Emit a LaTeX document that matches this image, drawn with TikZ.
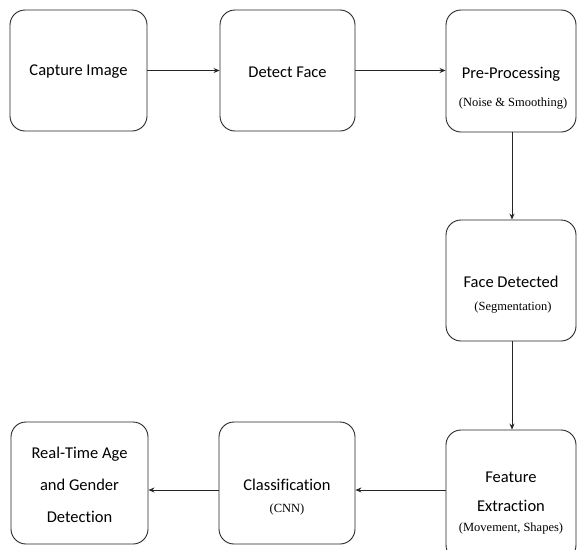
\documentclass[tikz,border=0pt]{standalone}
\usepackage{fontspec}
\setmainfont{Carlito}[Ligatures=NoCommon]
\newfontfamily\subfont{Liberation Serif}
\usetikzlibrary{arrows.meta}
\begin{document}
\begin{tikzpicture}[x=1pt,y=-1pt,
  box/.style={draw=black!85, line width=0.9pt, rounded corners=15pt, inner sep=0pt},
  main/.style={font=\fontsize{16.5}{29}\selectfont, align=center},
  sub/.style={font=\subfont\fontsize{12.5}{14}\selectfont},
  conn/.style={draw=black!85, line width=0.8pt, -{Stealth[length=6pt,width=5pt]}}]
\useasboundingbox (0,0) rectangle (577,549);
% boxes
\node[box, minimum width=137pt, minimum height=121pt] (b1) at (78.5,70.5) {};
\node[box, minimum width=135pt, minimum height=121pt] (b2) at (287.5,70.5) {};
\node[box, minimum width=130pt, minimum height=122pt] (b3) at (511,71) {};
\node[box, minimum width=130pt, minimum height=121pt] (b4) at (511,280.5) {};
\node[box, minimum width=130pt, minimum height=130pt] (b5) at (511,495) {};
\node[box, minimum width=136pt, minimum height=122pt] (b6) at (287,483) {};
\node[box, minimum width=137pt, minimum height=122pt] (b7) at (79.5,483) {};
% texts
\node[main] (t1) at (78.5,72) {Capture Image};
\node[main] (t2) at (287.5,72) {Detect Face};
\node[main] (t3) at (511,74) {Pre-Processing};
\node[sub] (s3) at (513,104) {(Noise \& Smoothing)};
\node[main] (t4) at (511,282) {Face Detected};
\node[sub] (s4) at (513,308) {(Segmentation)};
\node[main] (t5) at (511,492) {Feature\\Extraction};
\node[sub] (s5) at (511,528) {(Movement, Shapes)};
\node[main] (t6) at (287,485) {Classification};
\node[sub] (s6) at (287,509) {(CNN)};
\node[main, font=\fontsize{16.5}{32}\selectfont] (t7) at (79.5,485) {Real-Time Age\\and Gender\\Detection};
% connectors
\draw[conn] (b1) -- (b2);
\draw[conn] (b2) -- (b3.west |- b2);
\draw[conn] ([xshift=1pt]b3.south) -- ([xshift=1pt]b4.north);
\draw[conn] ([xshift=1pt]b4.south) -- ([xshift=1pt]b5.north);
\draw[conn] ([yshift=5pt]b5.west) -- ([yshift=-7pt]b6.east);
\draw[conn] ([yshift=-7pt]b6.west) -- ([yshift=-7pt]b7.east);
\end{tikzpicture}
\end{document}
